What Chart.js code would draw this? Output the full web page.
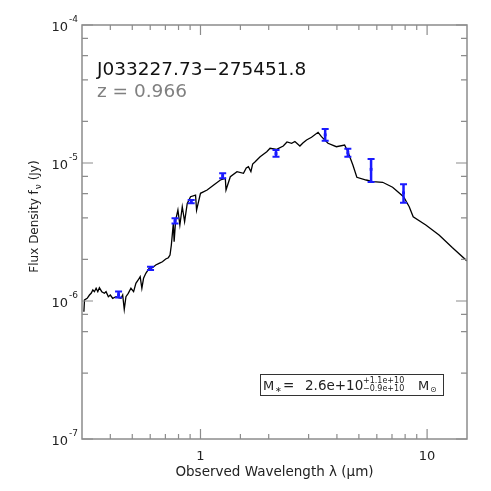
<!DOCTYPE html>
<html>
<head>
<meta charset="utf-8">
<script src="https://cdn.jsdelivr.net/npm/chart.js@4.4.1/dist/chart.umd.min.js"></script>
<style>
  html, body { margin: 0; padding: 0; background: #fff; }
</style>
</head>
<body>
<canvas id="sedChart" width="491" height="491"></canvas>
<script>
// best-fit model SED (observed wavelength in micron, flux density in Jy)
const modelWave = [0.3058, 0.3077, 0.3162, 0.3236, 0.3292, 0.335, 0.3404, 0.3463, 0.3522, 0.358,
  0.3667, 0.3765, 0.3831, 0.3921, 0.4001, 0.4099, 0.4239, 0.4338, 0.4458, 0.4535,
  0.4609, 0.4689, 0.48, 0.4932, 0.5068, 0.5187, 0.5309, 0.5418, 0.5512, 0.5607,
  0.5738, 0.5932, 0.614, 0.6347, 0.6564, 0.6792, 0.7024, 0.7214, 0.7337, 0.7437,
  0.759, 0.765, 0.777, 0.795, 0.811, 0.831, 0.851, 0.874, 0.904, 0.951,
  0.961, 1.0, 1.07, 1.144, 1.224, 1.287, 1.296, 1.354, 1.449, 1.548,
  1.592, 1.628, 1.669, 1.699, 1.743, 1.833, 1.961, 2.028, 2.17, 2.319,
  2.408, 2.525, 2.61, 2.746, 2.83, 2.938, 3.09, 3.303, 3.419, 3.653,
  3.977, 4.325, 4.472, 4.704, 4.898, 5.384, 5.755, 6.368, 7.043, 7.872,
  8.339, 8.682, 9.87, 11.29, 12.91, 15.0];
const modelFlux = [8.37e-7, 1.017e-6, 1.046e-6, 1.105e-6, 1.137e-6, 1.202e-6, 1.168e-6, 1.236e-6, 1.168e-6, 1.249e-6,
  1.168e-6, 1.137e-6, 1.168e-6, 1.074e-6, 1.105e-6, 1.046e-6, 1.074e-6, 1.056e-6, 1.046e-6, 1.105e-6,
  8.69e-7, 1.074e-6, 1.137e-6, 1.236e-6, 1.168e-6, 1.344e-6, 1.42e-6, 1.5e-6, 1.236e-6, 1.461e-6,
  1.587e-6, 1.726e-6, 1.743e-6, 1.824e-6, 1.875e-6, 1.926e-6, 2.015e-6, 2.059e-6, 2.154e-6, 2.545e-6,
  3.67e-6, 2.69e-6, 3.86e-6, 4.56e-6, 3.55e-6, 4.82e-6, 3.76e-6, 5.1e-6, 5.7e-6, 5.86e-6,
  4.56e-6, 6.03e-6, 6.37e-6, 6.93e-6, 7.53e-6, 7.74e-6, 6.37e-6, 7.95e-6, 8.65e-6, 8.42e-6,
  9.2e-6, 9.4e-6, 8.65e-6, 9.83e-6, 1.022e-5, 1.111e-5, 1.207e-5, 1.278e-5, 1.257e-5, 1.328e-5,
  1.42e-5, 1.389e-5, 1.431e-5, 1.328e-5, 1.396e-5, 1.468e-5, 1.536e-5, 1.669e-5, 1.551e-5, 1.389e-5,
  1.312e-5, 1.35e-5, 1.207e-5, 9.67e-6, 7.88e-6, 7.53e-6, 7.32e-6, 7.25e-6, 6.67e-6, 5.7e-6,
  4.82e-6, 4.08e-6, 3.55e-6, 3.01e-6, 2.44e-6, 1.95e-6];

// photometry with error bars
const obsWave = [0.435, 0.602, 0.772, 0.91, 1.253, 2.154, 3.55, 4.47, 5.66, 7.87];
const obsFlux = [1.11e-6, 1.72e-6, 3.8e-6, 5.25e-6, 8.07e-6, 1.17e-5, 1.6e-5, 1.19e-5, 9.0e-6, 6.08e-6];
const obsLow = [1.06e-6, 1.68e-6, 3.65e-6, 5.1e-6, 7.74e-6, 1.11e-5, 1.45e-5, 1.11e-5, 7.28e-6, 5.15e-6];
const obsHigh = [1.17e-6, 1.77e-6, 3.97e-6, 5.4e-6, 8.42e-6, 1.24e-5, 1.76e-5, 1.27e-5, 1.07e-5, 7.01e-6];

const xTickValues = [1, 10];
const xTickLabels = ['1', '10'];
const yTickValues = [1e-7, 1e-6, 1e-5, 1e-4];
const yTickExponents = ['-7', '-6', '-5', '-4'];

const axisGray = '#8c8c8c';
const font = '"DejaVu Sans", sans-serif';

function isDecade(v) {
    const l = Math.log10(v);
    return Math.abs(l - Math.round(l)) < 1e-6;
}

const sedDecor = {
    id: 'sedDecor',
    afterDatasetsDraw(chart) {
        const { ctx, scales: { x, y } } = chart;
        ctx.save();
        ctx.strokeStyle = '#1a1aff';
        obsWave.forEach((w, i) => {
            const px = x.getPixelForValue(w);
            const top = y.getPixelForValue(obsHigh[i]);
            const bot = y.getPixelForValue(obsLow[i]);
            ctx.lineWidth = 2.5;
            ctx.beginPath();
            ctx.moveTo(px, top);
            ctx.lineTo(px, bot);
            ctx.stroke();
            ctx.lineWidth = 2;
            ctx.beginPath();
            ctx.moveTo(px - 3.5, top); ctx.lineTo(px + 3.5, top);
            ctx.moveTo(px - 3.5, bot); ctx.lineTo(px + 3.5, bot);
            ctx.stroke();
        });
        ctx.restore();
    },
    afterDraw(chart) {
        const { ctx, chartArea: a, scales: { x, y } } = chart;
        ctx.save();

        // frame
        ctx.strokeStyle = axisGray;
        ctx.lineWidth = 1.5;
        ctx.strokeRect(a.left, a.top, a.right - a.left, a.bottom - a.top);

        // inward ticks on all four sides
        ctx.lineWidth = 1.2;
        ctx.beginPath();
        x.ticks.forEach(t => {
            const px = x.getPixelForValue(t.value);
            if (px < a.left + 1 || px > a.right - 1) return;
            const len = isDecade(t.value) ? 10 : 5;
            ctx.moveTo(px, a.bottom); ctx.lineTo(px, a.bottom - len);
            ctx.moveTo(px, a.top); ctx.lineTo(px, a.top + len);
        });
        y.ticks.forEach(t => {
            const py = y.getPixelForValue(t.value);
            if (py < a.top - 1 || py > a.bottom + 1) return;
            const len = isDecade(t.value) ? 11 : 6;
            ctx.moveTo(a.left, py); ctx.lineTo(a.left + len, py);
            ctx.moveTo(a.right, py); ctx.lineTo(a.right - len, py);
        });
        ctx.stroke();

        // y tick labels 10^n
        ctx.fillStyle = '#222';
        ctx.textBaseline = 'alphabetic';
        yTickValues.forEach((v, i) => {
            const py = y.getPixelForValue(v);
            ctx.font = '9px ' + font;
            ctx.textAlign = 'right';
            ctx.fillText(yTickExponents[i], a.left - 4, py - 3);
            const expW = ctx.measureText(yTickExponents[i]).width;
            ctx.font = '13px ' + font;
            ctx.fillText('10', a.left - 5 - expW, py + 6);
        });

        // y title with subscript nu
        ctx.save();
        ctx.translate(38, (a.top + a.bottom) / 2 - 15);
        ctx.rotate(-Math.PI / 2);
        ctx.textAlign = 'left';
        const p1 = 'Flux Density f';
        const p3 = ' (Jy)';
        ctx.font = '12px ' + font;
        const w1 = ctx.measureText(p1).width;
        ctx.font = '9px ' + font;
        const w2 = ctx.measureText('ν').width;
        ctx.font = '12px ' + font;
        const w3 = ctx.measureText(p3).width;
        const sx = -(w1 + w2 + w3) / 2;
        ctx.fillText(p1, sx, 0);
        ctx.font = '9px ' + font;
        ctx.fillText('ν', sx + w1 + 1, 3);
        ctx.font = '12px ' + font;
        ctx.fillText(p3, sx + w1 + w2 + 1, 0);
        ctx.restore();

        // object name and redshift
        ctx.textAlign = 'left';
        ctx.font = '18.5px ' + font;
        ctx.fillStyle = '#111';
        ctx.fillText('J033227.73\u2212275451.8', a.left + 15, a.top + 50);
        ctx.fillStyle = '#808080';
        ctx.fillText('z = 0.966', a.left + 15, a.top + 72);

        // stellar mass box
        const bx = 260, by = 374, bw = 183, bh = 21;
        ctx.strokeStyle = '#333';
        ctx.lineWidth = 1;
        ctx.strokeRect(bx + 0.5, by + 0.5, bw, bh);
        ctx.fillStyle = '#222';
        const base = by + 16;
        ctx.font = '13px ' + font;
        ctx.fillText('M', bx + 3, base);
        ctx.font = '8px ' + font;
        ctx.fillText('\u2217', bx + 15, base + 2);
        ctx.font = '13.5px ' + font;
        ctx.fillText('=', bx + 23, base);
        ctx.fillText('2.6e+10', bx + 45, base);
        ctx.font = '8px ' + font;
        ctx.fillText('+1.1e+10', bx + 103, base - 7);
        ctx.fillText('\u22120.9e+10', bx + 103, base + 1);
        ctx.font = '13px ' + font;
        ctx.fillText('M', bx + 158, base);
        ctx.font = '8px ' + font;
        ctx.fillText('\u2299', bx + 170, base + 2);

        ctx.restore();
    }
};

const ctx = document.getElementById('sedChart').getContext('2d');

new Chart(ctx, {
    type: 'scatter',
    data: {
        datasets: [
            {
                label: 'model',
                data: modelWave.map((w, i) => ({ x: w, y: modelFlux[i] })),
                showLine: true,
                borderColor: '#000',
                borderWidth: 1.3,
                pointRadius: 0,
                tension: 0
            },
            {
                label: 'photometry',
                data: obsWave.map((w, i) => ({ x: w, y: obsFlux[i] })),
                pointStyle: 'rect',
                pointRadius: 2,
                backgroundColor: '#1a1aff',
                borderColor: '#1a1aff',
                borderWidth: 0
            }
        ]
    },
    options: {
        responsive: false,
        animation: false,
        devicePixelRatio: 1,
        layout: { padding: { left: 82, right: 24, top: 25, bottom: 0 } },
        plugins: {
            legend: { display: false },
            tooltip: { enabled: false }
        },
        scales: {
            x: {
                type: 'logarithmic',
                min: 0.3,
                max: 15,
                grid: { display: false, drawTicks: false },
                border: { display: false },
                ticks: {
                    autoSkip: false,
                    maxRotation: 0,
                    padding: 10,
                    color: '#222',
                    font: { family: font, size: 13 },
                    callback: function (v) {
                        const i = xTickValues.findIndex(t => Math.abs(t - v) < 1e-9);
                        return i >= 0 ? xTickLabels[i] : '';
                    }
                },
                title: {
                    display: true,
                    text: 'Observed Wavelength \u03bb (\u03bcm)',
                    color: '#222',
                    font: { family: font, size: 13.5 },
                    padding: { top: 4, bottom: 10 }
                },
                afterFit: function (scale) { scale.height = 52; }
            },
            y: {
                type: 'logarithmic',
                min: 1e-7,
                max: 1e-4,
                display: false
            }
        }
    },
    plugins: [sedDecor]
});
</script>
</body>
</html>
